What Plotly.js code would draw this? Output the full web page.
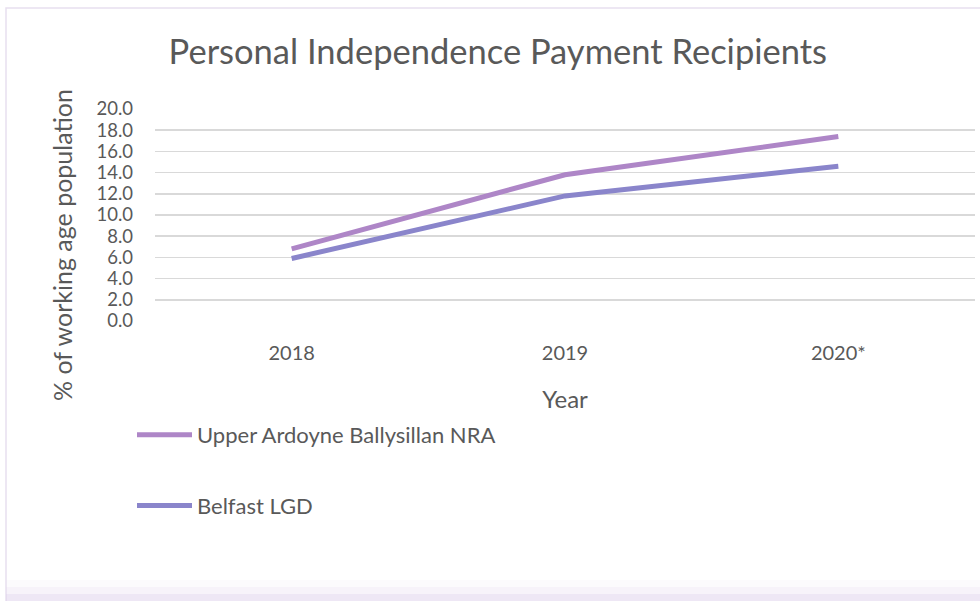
<!DOCTYPE html>
<html>
<head>
<meta charset="utf-8">
<script src="https://cdn.plot.ly/plotly-3.0.1.min.js"></script>
<style>
html,body{margin:0;padding:0;background:#fff;}
#chart{width:980px;height:601px;}
</style>
</head>
<body>
<div id="chart"></div>
<script>
const categories = ["2018", "2019", "2020*"];
const nraValues = [6.8, 13.8, 17.4];
const belfastValues = [5.9, 11.8, 14.6];
const seriesNames = ["Upper Ardoyne Ballysillan NRA", "Belfast LGD"];
const yTicks = [0, 2, 4, 6, 8, 10, 12, 14, 16, 18, 20];
const yTitle = "% of working age population";

const FONT = "Lato, 'Open Sans', sans-serif";
const TXT = "#595959";

const traces = [
  {
    x: categories, y: nraValues, type: "scatter", mode: "lines",
    name: seriesNames[0], legendgroup: "a",
    line: {color: "#AE86C7", width: 5}
  },
  {
    x: categories, y: belfastValues, type: "scatter", mode: "lines",
    name: seriesNames[1], legendgroup: "b",
    line: {color: "#8A85CB", width: 5}
  }
];

// plot area in pixels: left 155, right 975, top 109, bottom 321
const L = 155, R = 975, T = 109, B = 321;
const px = v => (v - L) / (R - L);
const py = v => (B - v) / (B - T);

const shapes = [
  {type: "rect", xref: "paper", yref: "paper", x0: px(6), x1: px(981), y0: py(602), y1: py(8),
   line: {color: "#E8E0EF", width: 1.5}, fillcolor: "rgba(0,0,0,0)", layer: "below"},
  {type: "rect", xref: "paper", yref: "paper", x0: px(6), x1: px(981), y0: py(601), y1: py(594),
   line: {width: 0}, fillcolor: "rgba(222,208,236,0.5)", layer: "below"},
  {type: "rect", xref: "paper", yref: "paper", x0: px(6), x1: px(981), y0: py(594), y1: py(587),
   line: {width: 0}, fillcolor: "rgba(228,216,240,0.3)", layer: "below"},
  {type: "rect", xref: "paper", yref: "paper", x0: px(6), x1: px(981), y0: py(587), y1: py(580),
   line: {width: 0}, fillcolor: "rgba(235,226,244,0.15)", layer: "below"}
];

const layout = {
  width: 980, height: 601,
  margin: {l: L, r: 980 - R, t: T, b: 601 - B},
  paper_bgcolor: "#ffffff",
  plot_bgcolor: "#ffffff",
  font: {family: FONT, color: TXT, size: 20},
  title: {
    text: "Personal Independence Payment Recipients",
    font: {family: FONT, size: 34.5, color: TXT},
    x: 0.508, xanchor: "center", y: 0.913, yanchor: "middle", xref: "container", yref: "container"
  },
  xaxis: {
    type: "category",
    range: [-0.5, 2.5],
    showgrid: false, zeroline: false, showline: false,
    ticks: "", ticklabelstandoff: 18,
    tickfont: {family: FONT, size: 20, color: TXT},
    title: {text: "Year", font: {family: FONT, size: 24, color: TXT}, standoff: 28}
  },
  yaxis: {
    range: [0, 20],
    tickvals: yTicks,
    tickformat: ".1f",
    showgrid: true, gridcolor: "#D9D9D9", gridwidth: 1.5,
    zeroline: false, showline: false,
    ticks: "", ticklabelstandoff: 21,
    tickfont: {family: FONT, size: 18.5, color: TXT}
  },
  annotations: [
    {text: yTitle, textangle: -90, showarrow: false,
     xref: "paper", yref: "paper", x: px(62), y: py(245),
     xanchor: "center", yanchor: "middle",
     font: {family: FONT, size: 25, color: TXT}}
  ],
  showlegend: true,
  legend: {
    x: px(132), xanchor: "left",
    y: py(414), yanchor: "top",
    orientation: "v",
    traceorder: "grouped",
    tracegroupgap: 39,
    itemwidth: 55,
    font: {family: FONT, size: 22, color: TXT},
    bgcolor: "rgba(0,0,0,0)"
  },
  shapes: shapes
};

Plotly.newPlot("chart", traces, layout, {displayModeBar: false, staticPlot: true});
</script>
</body>
</html>
